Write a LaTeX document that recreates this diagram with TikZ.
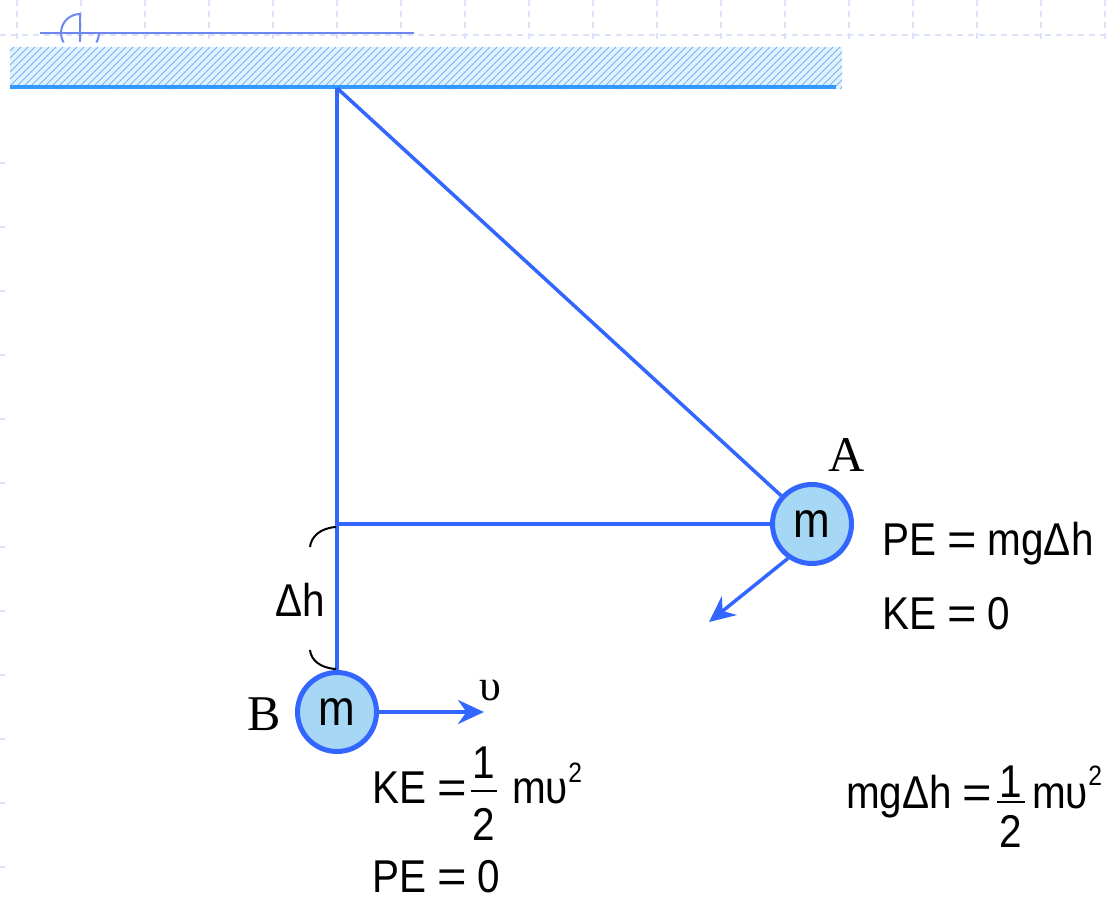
\documentclass[tikz,border=0pt]{standalone}
\usepackage{fontspec}
\setmainfont{Liberation Sans}
\newfontfamily\eqfont[FakeStretch=0.88]{Liberation Sans}
\newfontfamily\eqsignfont[FakeStretch=1.1]{Liberation Sans}
\newfontfamily\timesfont{Liberation Serif}
\newcommand\eqsym{\hspace{11pt}{\eqsignfont=}\hspace{11pt}}
\usetikzlibrary{calc,positioning,arrows.meta}
\definecolor{stringblue}{RGB}{51,102,255}
\definecolor{ballfill}{RGB}{166,216,245}
\definecolor{ceilfill}{RGB}{228,242,255}
\definecolor{hatchcol}{RGB}{110,182,246}
\definecolor{ceilline}{RGB}{51,153,255}
\definecolor{decocol}{RGB}{110,134,242}
\definecolor{gridcol}{RGB}{220,226,250}
\tikzset{
  wire/.style={draw=stringblue, line width=3.5pt},
  mass/.style={circle, draw=stringblue, fill=ballfill, line width=5pt, minimum size=79pt, inner sep=0pt, font=\eqfont\fontsize{50}{52}\selectfont},
  eq/.style={inner sep=0pt, font=\eqfont\fontsize{46}{50}\selectfont},
  supscr/.style={inner sep=0pt, font=\eqfont\fontsize{28}{30}\selectfont},
  lbl/.style={inner sep=0pt, font=\timesfont\fontsize{50}{54}\selectfont},
  vel/.style={draw=stringblue, line width=3.5pt, -{Stealth[length=26pt,width=24pt]}},
  fracbar/.style={line width=2.5pt},
  brace/.style={line width=2pt},
  gridline/.style={draw=gridcol, line width=1.5pt, dash pattern=on 6pt off 5pt}
}
\begin{document}
\begin{tikzpicture}[x=1pt,y=-1pt]
  \useasboundingbox (0,0) rectangle (1110,899);
  % slide grid
  \foreach \k in {0,...,17}
    \draw[gridline] (17+64*\k,0) -- (17+64*\k,43);
  \draw[gridline] (0,35) -- (1110,35);
  \foreach \k in {2,...,13}
    \draw[gridline] (0,35+64*\k) -- (5,35+64*\k);
  \draw[decocol, line width=2pt] (40,33) -- (414,33);
  \draw[decocol, line width=2pt] (80,14) arc[start angle=270, end angle=150, radius=19];
  \draw[decocol, line width=2pt] (99,33) arc[start angle=0, end angle=30, radius=19];
  \draw[decocol, line width=2pt] (80,13) -- (80,42);
  % ceiling
  \fill[ceilfill] (10,47) rectangle (842,89);
  \begin{scope}
    \clip (10,47) rectangle (842,89);
    \foreach \i in {-42,-35,...,842}
      \draw[hatchcol, line width=0.8pt] (\i,89) -- (\i+42,47);
  \end{scope}
  \draw[ceilline, line width=4pt] (10,87) -- (836,87);

  \coordinate (P) at (337,88);
  \node[mass] (A) at (812,524) {m};
  \node[mass] (B) at (337,712) {m};
  \coordinate (foot) at (P |- A);
  \coordinate (Atip) at (709,622);
  \coordinate (Btip) at (484,712);

  \draw[wire] (P) -- (B);
  \draw[wire] (P) -- (A);
  \draw[wire] (foot) -- (A);
  \draw[vel] (A.235) -- (Atip);
  \draw[vel] (B.east) -- (Btip);

  \node[lbl] (labA) at (847,455) {A};
  \node[lbl] (labB) at (264,714) {B};
  \node[lbl, font=\timesfont\fontsize{44}{48}\selectfont] (labv) at (490,690) {υ};

  % height
  \draw[brace] (336,527) .. controls (320,528) and (311,537) .. (310,547);
  \draw[brace] (310,650) .. controls (311,660) and (320,668) .. (336,669);
  \node[eq] (dh) at (300,600) {Δh};

  % energy at A
  \node[eq, anchor=base west] (peA) at (882,555) {PE\eqsym mgΔh};
  \node[eq, anchor=base west] (keA) at (882,629) {KE\eqsym 0};

  % energy at B
  \node[eq, anchor=base west] (keB) at (372,803) {KE\eqsym};
  \node[eq, anchor=base] (oneB) at (484,778) {1};
  \node[eq, anchor=base] (twoB) at (484,840) {2};
  \draw[fracbar] ([xshift=-13pt,yshift=-13pt]oneB.base) -- ([xshift=13pt,yshift=-13pt]oneB.base);
  \node[eq, anchor=base west] (mvB) at (512,803) {mυ};
  \node[supscr, anchor=base west] (sqB) at (mvB.base east) [yshift=21pt] {2};
  \node[eq, anchor=base west] (peB) at (372,892) {PE\eqsym 0};

  % balance
  \node[eq, anchor=base west] (lhs) at (846,808) {mgΔh\eqsym};
  \node[eq, anchor=base] (oneR) at (1011,797) {1};
  \node[eq, anchor=base] (twoR) at (1011,847) {2};
  \draw[fracbar] ([xshift=-14pt,yshift=-5pt]oneR.base) -- ([xshift=14pt,yshift=-5pt]oneR.base);
  \node[eq, anchor=base west] (mvR) at (1032,808) {mυ};
  \node[supscr, anchor=base west] (sqR) at (mvR.base east) [yshift=23pt] {2};
\end{tikzpicture}
\end{document}
